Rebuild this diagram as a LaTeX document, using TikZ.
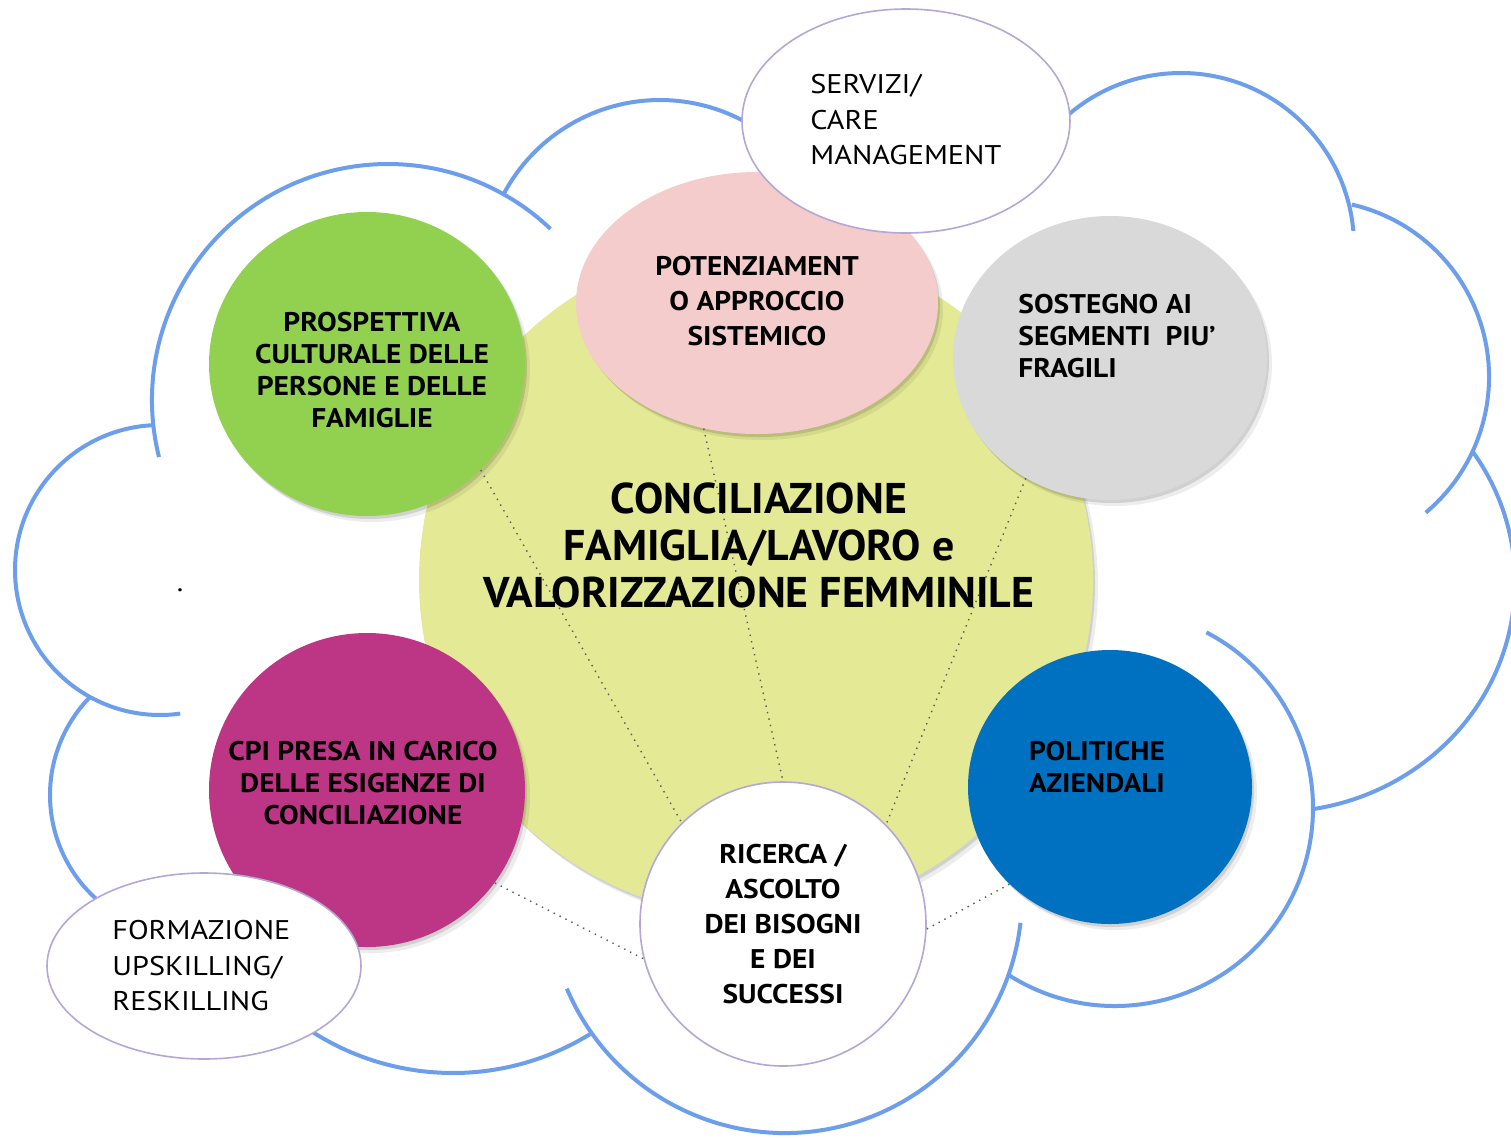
\documentclass[tikz,border=0pt]{standalone}
\usepackage{fontspec}
\setmainfont{PT Sans}
\newfontfamily\labfont{PT Sans}[FakeStretch=1.09]
\newfontfamily\regfont{PT Sans}[FakeStretch=1.12]
\newfontfamily\titfont{PT Sans}[FakeStretch=1.02]
\usetikzlibrary{shapes.geometric,shadows}
\definecolor{nuvola}{HTML}{6D9EEB}
\definecolor{giallo}{HTML}{E4E995}
\definecolor{verde}{HTML}{92D050}
\definecolor{rosa}{HTML}{F4CCCC}
\definecolor{grigio}{HTML}{D9D9D9}
\definecolor{fucsia}{HTML}{BD3585}
\definecolor{blu}{HTML}{0070C0}
\definecolor{lilla}{HTML}{B4A7D6}
% centre x, centre y, start, end, radius
\newcommand{\nubarc}[5]{\draw[nube] ([shift={(#3:#5)}]#1,#2) arc[start angle=#3, end angle=#4, radius=#5];}
\tikzset{
  nube/.style = {draw=nuvola, line width=2pt},% bordo della nuvola
  ell/.style 2 args = {ellipse, inner sep=0pt, minimum width=#1pt, minimum height=#2pt},
  disc/.style = {draw=none,
    drop shadow={shadow xshift=1pt, shadow yshift=-1.5pt, opacity=.12, fill=black},
    drop shadow={shadow xshift=2.5pt, shadow yshift=-3pt, opacity=.07, fill=black}},% cerchio colorato
  bianco/.style = {fill=white, draw=lilla, line width=0.8pt},% ellisse bianca
  link/.style = {draw=black!65, line width=0.7pt, dash pattern=on 0.7pt off 2.6pt},
  lab/.style = {align=center, inner sep=0pt, font=\labfont\bfseries\fontsize{13.5}{#1}\selectfont},
  lab/.default = 16,
  lab_r/.style = {align=left, inner sep=0pt, font=\regfont\fontsize{13.5}{17.75}\selectfont},
  titolo/.style = {align=center, inner sep=0pt, font=\titfont\bfseries\fontsize{21.5}{23.5}\selectfont}
}

\begin{document}
\begin{tikzpicture}[x=0.5pt, y=-0.5pt]
  \useasboundingbox (0,0) rectangle (1511,1137);
  % nuvola
  \nubarc{388}{400}{166}{313.5}{236}
  \nubarc{160}{570}{267}{82}{145}
  \nubarc{190}{795}{224}{125}{140}
  \nubarc{453}{812}{130}{58.3}{261}
  \nubarc{785}{896}{157}{6.5}{237}
  \nubarc{1115}{808}{122.5}{-62.5}{198}
  \draw[nube] ([shift={(-34.5:240 and 230)}]1275,582) arc[start angle=-34.5, end angle=81, x radius=240, y radius=230];
  \nubarc{1312}{377}{283}{410}{177}
  \nubarc{1181}{246}{225}{355}{173}
  \nubarc{660}{277}{208}{300}{177}
  % cerchi
  \node[disc, fill=giallo, ell={337}{337}] (centro) at (756,580) {};
  \node[disc, fill=verde, ell={158}{152}] (prospettiva) at (367,364) {};
  \node[disc, fill=rosa, ell={181}{131}] (potenziamento) at (757,303) {};
  \node[disc, fill=grigio, ell={157}{142}] (sostegno) at (1110,358) {};
  \node[disc, fill=fucsia, ell={158}{157}] (cpi) at (367,790) {};
  \node[disc, fill=blu, ell={142}{137}] (politiche) at (1110,787) {};
  \node[bianco, ell={164}{112}] (servizi) at (906,121) {};
  \node[bianco, ell={157}{93}] (formazione) at (204,966) {};
  \node[bianco, ell={143}{142}] (ricerca) at (783,924) {};
  % collegamenti
  \draw[link] (prospettiva.-43) -- (ricerca.135);
  \draw[link] (potenziamento.-113) -- (ricerca.north);
  \draw[link] (sostegno.-125) -- (ricerca.44);
  \draw[link] (cpi.-36) -- (ricerca.194);
  \draw[link] (politiche.-136) -- (ricerca.-2);
  % testi
  \node[titolo] (t_centro) at (759,545) {CONCILIAZIONE\\FAMIGLIA/LAVORO e\\VALORIZZAZIONE FEMMINILE};
  \node[lab] (t_prospettiva) at (372,370) {PROSPETTIVA\\CULTURALE DELLE\\PERSONE E DELLE\\FAMIGLIE};
  \node[lab=17.5] (t_potenziamento) at (757,301) {POTENZIAMENT\\O APPROCCIO\\SISTEMICO};
  \node[lab, align=left, anchor=west] (t_sostegno) at (1018,336) {SOSTEGNO AI\\SEGMENTI~ PIU’\\FRAGILI};
  \node[lab] (t_cpi) at (363,783) {CPI PRESA IN CARICO\\DELLE ESIGENZE DI\\CONCILIAZIONE};
  \node[lab] (t_politiche) at (1097,767) {POLITICHE\\AZIENDALI};
  \node[lab=17.5] (t_ricerca) at (783,924) {RICERCA /\\ASCOLTO\\DEI BISOGNI\\E DEI\\SUCCESSI};
  \node[lab_r, anchor=west] (t_servizi) at (810,120) {SERVIZI/\\CARE\\MANAGEMENT};
  \node[lab_r, anchor=west] (t_formazione) at (112,966) {FORMAZIONE\\UPSKILLING/\\RESKILLING};
  \node[lab_r] (punto) at (180,590) {.};
\end{tikzpicture}
\end{document}
